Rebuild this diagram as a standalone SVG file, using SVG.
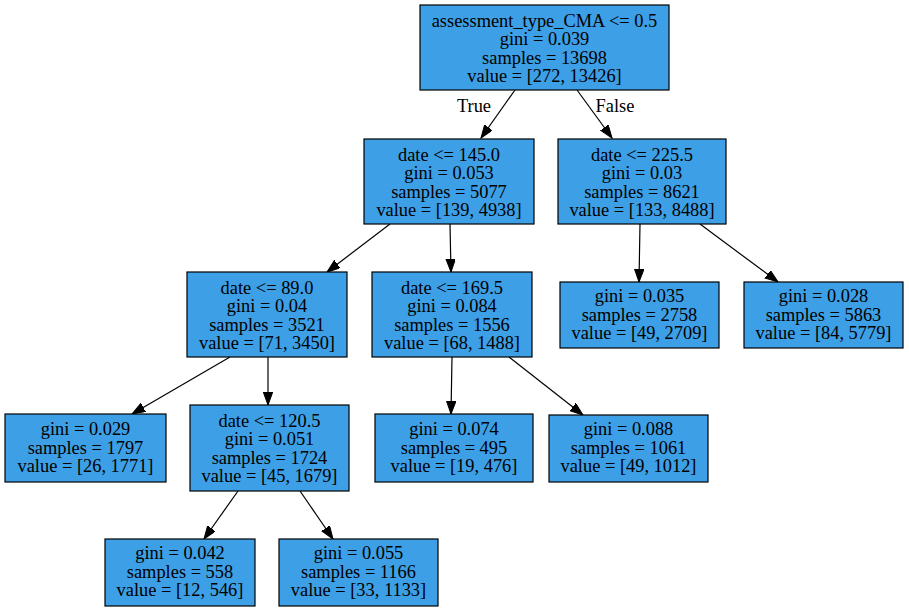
<svg xmlns="http://www.w3.org/2000/svg" width="909" height="611" viewBox="0 0 909 611">
<style>
.node rect{fill:#3d9fe6;stroke:#000;stroke-width:1.2}
text{font-family:"Liberation Serif","Times New Roman",serif;font-size:18.4px;fill:#000;text-anchor:middle}
.edges line{stroke:#000;stroke-width:1.2}
</style>
<defs>
<marker id="ah" markerUnits="userSpaceOnUse" markerWidth="14" markerHeight="10" refX="13" refY="4.75" orient="auto">
<path d="M0,0 L13,4.75 L0,9.5 z" fill="#000" stroke="#000" stroke-width="1"/>
</marker>
</defs>
<rect width="909" height="611" fill="#fff"/>
<g class="edges" id="edges">
<line x1="515" y1="90" x2="481" y2="138" marker-end="url(#ah)"/>
<line x1="577" y1="90" x2="612" y2="138" marker-end="url(#ah)"/>
<line x1="390" y1="224" x2="327" y2="272" marker-end="url(#ah)"/>
<line x1="450" y1="224" x2="451" y2="272" marker-end="url(#ah)"/>
<line x1="640" y1="224" x2="639" y2="282" marker-end="url(#ah)"/>
<line x1="700" y1="224" x2="778" y2="282" marker-end="url(#ah)"/>
<line x1="230" y1="357" x2="132" y2="414" marker-end="url(#ah)"/>
<line x1="268" y1="357" x2="268" y2="405" marker-end="url(#ah)"/>
<line x1="452" y1="357" x2="451" y2="414" marker-end="url(#ah)"/>
<line x1="509" y1="357" x2="583" y2="415" marker-end="url(#ah)"/>
<line x1="238" y1="491" x2="204" y2="539" marker-end="url(#ah)"/>
<line x1="300" y1="491" x2="333" y2="539" marker-end="url(#ah)"/>
<text x="474" y="112">True</text>
<text x="615" y="112">False</text>
</g>
<g class="node" id="n0"><rect x="420" y="5" width="249" height="85"/>
<text x="544.5" y="27">assessment_type_CMA &lt;= 0.5</text><text x="544.5" y="45">gini = 0.039</text><text x="544.5" y="64">samples = 13698</text><text x="544.5" y="82">value = [272, 13426]</text></g>
<g class="node" id="n1"><rect x="364" y="139" width="170" height="85"/>
<text x="449" y="161">date &lt;= 145.0</text><text x="449" y="179">gini = 0.053</text><text x="449" y="198">samples = 5077</text><text x="449" y="216">value = [139, 4938]</text></g>
<g class="node" id="n2"><rect x="558" y="139" width="168" height="85"/>
<text x="642" y="161">date &lt;= 225.5</text><text x="642" y="179">gini = 0.03</text><text x="642" y="198">samples = 8621</text><text x="642" y="216">value = [133, 8488]</text></g>
<g class="node" id="n3"><rect x="187" y="272" width="160" height="85"/>
<text x="267" y="294">date &lt;= 89.0</text><text x="267" y="312">gini = 0.04</text><text x="267" y="331">samples = 3521</text><text x="267" y="349">value = [71, 3450]</text></g>
<g class="node" id="n4"><rect x="372" y="272" width="160" height="85"/>
<text x="452" y="294">date &lt;= 169.5</text><text x="452" y="312">gini = 0.084</text><text x="452" y="331">samples = 1556</text><text x="452" y="349">value = [68, 1488]</text></g>
<g class="node" id="n5"><rect x="560" y="282" width="159" height="66"/>
<text x="639.5" y="302">gini = 0.035</text><text x="639.5" y="321">samples = 2758</text><text x="639.5" y="339">value = [49, 2709]</text></g>
<g class="node" id="n6"><rect x="744" y="282" width="159" height="66"/>
<text x="823.5" y="302">gini = 0.028</text><text x="823.5" y="321">samples = 5863</text><text x="823.5" y="339">value = [84, 5779]</text></g>
<g class="node" id="n7"><rect x="5" y="414" width="161" height="68"/>
<text x="85.5" y="435">gini = 0.029</text><text x="85.5" y="454">samples = 1797</text><text x="85.5" y="472">value = [26, 1771]</text></g>
<g class="node" id="n8"><rect x="190" y="405" width="159" height="86"/>
<text x="269.5" y="427">date &lt;= 120.5</text><text x="269.5" y="445">gini = 0.051</text><text x="269.5" y="464">samples = 1724</text><text x="269.5" y="482">value = [45, 1679]</text></g>
<g class="node" id="n9"><rect x="375" y="414" width="158" height="68"/>
<text x="454" y="435">gini = 0.074</text><text x="454" y="454">samples = 495</text><text x="454" y="472">value = [19, 476]</text></g>
<g class="node" id="n10"><rect x="549" y="415" width="159" height="67"/>
<text x="628.5" y="435">gini = 0.088</text><text x="628.5" y="454">samples = 1061</text><text x="628.5" y="472">value = [49, 1012]</text></g>
<g class="node" id="n11"><rect x="105" y="539" width="150" height="67"/>
<text x="180" y="559">gini = 0.042</text><text x="180" y="578">samples = 558</text><text x="180" y="596">value = [12, 546]</text></g>
<g class="node" id="n12"><rect x="279" y="539" width="159" height="67"/>
<text x="358.5" y="559">gini = 0.055</text><text x="358.5" y="578">samples = 1166</text><text x="358.5" y="596">value = [33, 1133]</text></g>
</svg>
